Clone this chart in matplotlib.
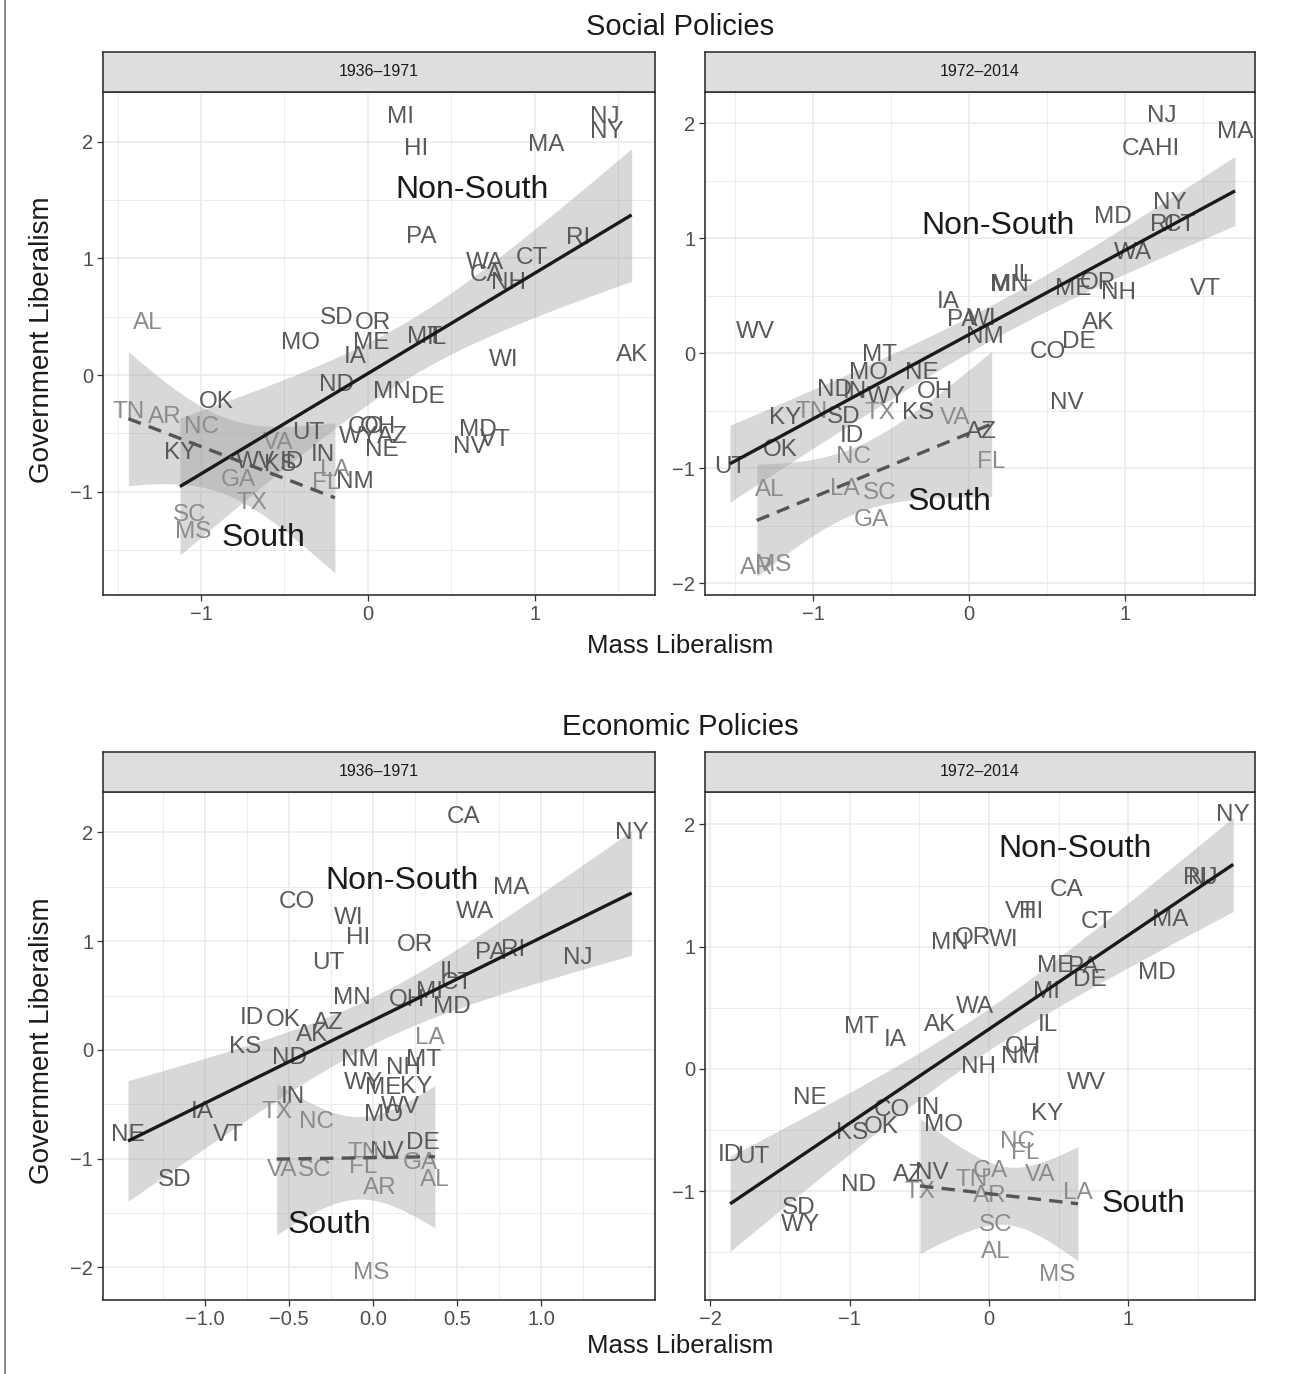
import numpy as np
import matplotlib
matplotlib.use("Agg")
import matplotlib.pyplot as plt
from matplotlib.lines import Line2D

plt.rcParams['font.family'] = ['Liberation Sans', 'DejaVu Sans']

SOUTH = ["AL", "AR", "FL", "GA", "LA", "MS", "NC", "SC", "TN", "TX", "VA"]

# ---------------- Social policies, 1936-1971 ----------------
soc1_states = ["AL", "SD", "OR", "MO", "ME", "IA", "ND", "MN", "OK", "TN",
               "AR", "NC", "KY", "VA", "UT", "WV", "KS", "ID", "IN", "LA",
               "NM", "FL", "GA", "TX", "SC", "MS", "MI", "HI", "MA", "NJ",
               "NY", "PA", "RI", "CT", "WA", "CA", "NH", "MT", "IL", "WI",
               "AK", "DE", "MD", "VT", "NV", "CO", "OH", "WY", "AZ", "NE"]
soc1_mass = [-1.317, -0.187, 0.032, -0.407, 0.022, -0.078, -0.187, 0.142, -0.906, -1.435,
             -1.216, -0.996, -1.126, -0.537, -0.357, -0.677, -0.527, -0.457, -0.268, -0.198,
             -0.078, -0.248, -0.776, -0.697, -1.066, -1.046, 0.192, 0.291, 1.070, 1.419,
             1.429, 0.321, 1.260, 0.980, 0.700, 0.710, 0.840, 0.341, 0.413, 0.810,
             1.579, 0.361, 0.661, 0.760, 0.611, -0.012, 0.060, -0.060, 0.144, 0.084]
soc1_gov = [0.448, 0.486, 0.443, 0.271, 0.277, 0.157, -0.086, -0.143, -0.229, -0.314,
            -0.363, -0.443, -0.671, -0.586, -0.500, -0.743, -0.771, -0.743, -0.686, -0.814,
            -0.914, -0.929, -0.900, -1.100, -1.200, -1.343, 2.214, 1.934, 1.971, 2.214,
            2.085, 1.185, 1.171, 1.000, 0.957, 0.857, 0.786, 0.328, 0.317, 0.129,
            0.171, -0.186, -0.471, -0.557, -0.614, -0.446, -0.446, -0.531, -0.531, -0.643]

# ---------------- Social policies, 1972-2014 ----------------
soc2_states = ["WV", "IA", "NM", "MT", "MO", "NE", "ND", "IN", "WY", "OH",
               "KY", "TN", "SD", "TX", "KS", "VA", "AZ", "ID", "OK", "NC",
               "FL", "UT", "AL", "LA", "SC", "GA", "AR", "MS", "NJ", "MA",
               "CA", "HI", "NY", "MD", "RI", "CT", "WA", "MI", "MN", "IL",
               "OR", "ME", "NH", "VT", "AK", "DE", "CO", "NV", "PA", "WI"]
soc2_mass = [-1.372, -0.133, 0.103, -0.571, -0.645, -0.303, -0.859, -0.731, -0.528, -0.218,
             -1.179, -1.009, -0.806, -0.571, -0.325, -0.090, 0.081, -0.752, -1.212, -0.741,
             0.145, -1.532, -1.276, -0.795, -0.571, -0.624, -1.360, -1.254, 1.235, 1.705,
             1.085, 1.267, 1.288, 0.925, 1.235, 1.353, 1.053, 0.218, 0.263, 0.348,
             0.829, 0.669, 0.957, 1.513, 0.829, 0.701, 0.508, 0.626, -0.045, 0.083]
soc2_gov = [0.185, 0.446, 0.142, -0.017, -0.177, -0.177, -0.322, -0.336, -0.380, -0.336,
            -0.568, -0.510, -0.554, -0.525, -0.525, -0.568, -0.684, -0.722, -0.843, -0.902,
            -0.945, -0.988, -1.191, -1.185, -1.220, -1.452, -1.872, -1.843, 2.061, 1.925,
            1.771, 1.771, 1.302, 1.180, 1.113, 1.113, 0.867, 0.591, 0.591, 0.678,
            0.612, 0.554, 0.525, 0.554, 0.258, 0.099, 0.012, -0.438, 0.287, 0.296]

# ---------------- Economic policies, 1936-1971 ----------------
eco1_states = ["CO", "WI", "HI", "UT", "MN", "ID", "OK", "AZ", "AK", "KS",
               "ND", "NM", "IN", "TX", "NC", "NH", "MT", "WY", "ME", "KY",
               "WV", "MO", "LA", "DE", "NV", "TN", "GA", "VA", "SC", "FL",
               "AR", "AL", "MS", "OH", "MI", "CT", "IL", "MD", "CA", "NY",
               "MA", "WA", "OR", "PA", "RI", "NJ", "NE", "IA", "VT", "SD"]
eco1_mass = [-0.454, -0.147, -0.087, -0.266, -0.127, -0.722, -0.534, -0.266, -0.365, -0.762,
             -0.494, -0.077, -0.474, -0.573, -0.335, 0.180, 0.299, -0.058, 0.061, 0.260,
             0.161, 0.061, 0.339, 0.299, 0.081, -0.058, 0.280, -0.543, -0.345, -0.058,
             0.042, 0.369, -0.008, 0.200, 0.339, 0.498, 0.458, 0.468, 0.538, 1.540,
             0.825, 0.607, 0.250, 0.696, 0.835, 1.222, -1.458, -1.018, -0.863, -1.179]
eco1_gov = [1.364, 1.211, 1.027, 0.797, 0.475, 0.291, 0.276, 0.245, 0.138, 0.030,
            -0.077, -0.092, -0.429, -0.567, -0.659, -0.169, -0.092, -0.307, -0.352, -0.337,
            -0.521, -0.598, 0.107, -0.858, -0.935, -0.950, -1.042, -1.103, -1.103, -1.073,
            -1.272, -1.195, -2.053, 0.460, 0.536, 0.613, 0.720, 0.398, 2.145, 1.993,
            1.487, 1.272, 0.966, 0.889, 0.920, 0.843, -0.782, -0.570, -0.782, -1.195]

# ---------------- Economic policies, 1972-2014 ----------------
eco2_states = ["WA", "MT", "IA", "AK", "NH", "NE", "CO", "IN", "KS", "OK",
               "MO", "ID", "UT", "ND", "AZ", "NV", "TX", "TN", "SD", "WY",
               "CA", "VT", "HI", "CT", "MN", "OR", "WI", "ME", "PA", "DE",
               "MI", "IL", "OH", "NM", "WV", "KY", "NY", "RI", "NJ", "MA",
               "MD", "NC", "FL", "GA", "VA", "AR", "LA", "SC", "AL", "MS"]
eco2_mass = [-0.100, -0.914, -0.675, -0.352, -0.077, -1.285, -0.699, -0.436, -0.986, -0.771,
             -0.328, -1.859, -1.692, -0.938, -0.579, -0.411, -0.495, -0.124, -1.369, -1.357,
             0.558, 0.223, 0.306, 0.773, -0.280, -0.113, 0.103, 0.474, 0.677, 0.725,
             0.414, 0.426, 0.246, 0.223, 0.701, 0.416, 1.754, 1.479, 1.538, 1.299,
             1.204, 0.208, 0.258, 0.007, 0.366, 0.007, 0.639, 0.050, 0.050, 0.488]
eco2_gov = [0.510, 0.346, 0.237, 0.360, 0.019, -0.240, -0.335, -0.321, -0.526, -0.472,
            -0.458, -0.703, -0.717, -0.948, -0.867, -0.853, -1.003, -0.908, -1.139, -1.276,
            1.464, 1.286, 1.286, 1.204, 1.028, 1.069, 1.055, 0.842, 0.837, 0.728,
            0.632, 0.360, 0.182, 0.101, -0.117, -0.368, 2.077, 1.559, 1.559, 1.218,
            0.787, -0.597, -0.687, -0.834, -0.867, -1.038, -1.014, -1.276, -1.496, -1.684]

period_labels = ["1936\u20131971", "1972\u20132014"]
row_titles = ["Social Policies", "Economic Policies"]
x_label = "Mass Liberalism"
y_label = "Government Liberalism"

W, H = 1290, 1374
fig = plt.figure(figsize=(W / 100, H / 100), dpi=100)

NONSOUTH_COL = "#595959"
SOUTH_COL = "#8c8c8c"
STATE_FS = 17.5
GROUP_FS = 23
TICK_FS = 14.5
XLAB_FS = 18.5
YLAB_FS = 20
TITLE_FS = 21
STRIP_FS = 11.5


def t975(df):
    z = 1.959964
    return (z + (z**3 + z) / (4 * df)
            + (5 * z**5 + 16 * z**3 + 3 * z) / (96 * df**2)
            + (3 * z**7 + 19 * z**5 + 17 * z**3 - 15 * z) / (384 * df**3))


def fit_band(x, y):
    x = np.asarray(x, float)
    y = np.asarray(y, float)
    n = len(x)
    b1, b0 = np.polyfit(x, y, 1)
    xs = np.linspace(x.min(), x.max(), 100)
    yhat = b0 + b1 * xs
    res = y - (b0 + b1 * x)
    s = np.sqrt(np.sum(res**2) / (n - 2))
    sxx = np.sum((x - x.mean())**2)
    se = s * np.sqrt(1.0 / n + (xs - x.mean())**2 / sxx)
    t = t975(n - 2)
    return xs, yhat, yhat - t * se, yhat + t * se


def px_axes(l, t, r, b):
    return [l / W, 1 - b / H, (r - l) / W, (b - t) / H]


def draw_panel(box, states, mass, gov, xlim, ylim, xticks, xticklabels,
               yticks, yticklabels, minor_x, minor_y, strip, ns_pos, s_pos):
    l, t, r, b = box
    ax = fig.add_axes(px_axes(l, t, r, b))
    ax.set_xlim(*xlim)
    ax.set_ylim(*ylim)
    ax.set_xticks(xticks)
    ax.set_xticklabels(xticklabels)
    ax.set_yticks(yticks)
    ax.set_yticklabels(yticklabels)
    ax.set_xticks(minor_x, minor=True)
    ax.set_yticks(minor_y, minor=True)
    ax.grid(True, which="major", color="#ebebeb", lw=1.2, zorder=0)
    ax.grid(True, which="minor", color="#ebebeb", lw=0.7, zorder=0)
    ax.set_axisbelow(True)
    ax.tick_params(which="major", length=4, width=0.9, color="#333333",
                   labelsize=TICK_FS, labelcolor="#4d4d4d", pad=3)
    ax.tick_params(which="minor", length=0)
    for sp in ax.spines.values():
        sp.set_color("#333333")
        sp.set_linewidth(1.2)

    mass = np.asarray(mass)
    gov = np.asarray(gov)
    is_s = np.array([s in SOUTH for s in states])

    for grp, ls, col in [(~is_s, "-", "#1a1a1a"), (is_s, "--", "#555555")]:
        xs, yh, lo, hi = fit_band(mass[grp], gov[grp])
        ax.fill_between(xs, lo, hi, color="#999999", alpha=0.38, lw=0, zorder=1)
        line, = ax.plot(xs, yh, color=col, lw=2.4, zorder=3, solid_capstyle="butt")
        if ls == "--":
            line.set_dashes((4, 2.5))

    for st, xv, yv, s in zip(states, mass, gov, is_s):
        ax.text(xv, yv, st, ha="center", va="center", fontsize=STATE_FS,
                color=SOUTH_COL if s else NONSOUTH_COL, zorder=2)

    ax.text(ns_pos[0], ns_pos[1], "Non-South", ha="center", va="center",
            fontsize=GROUP_FS, color="#1a1a1a", zorder=4)
    ax.text(s_pos[0], s_pos[1], "South", ha="center", va="center",
            fontsize=GROUP_FS, color="#1a1a1a", zorder=4)

    sax = fig.add_axes(px_axes(l, t - 40, r, t))
    sax.set_facecolor("#dedede")
    sax.set_xticks([])
    sax.set_yticks([])
    for sp in sax.spines.values():
        sp.set_color("#333333")
        sp.set_linewidth(1.2)
    sax.text(0.5, 0.5, strip, ha="center", va="center", fontsize=STRIP_FS,
             color="#1a1a1a", transform=sax.transAxes)
    return ax


M = "\u2212"
# top row
draw_panel((103, 92, 655, 595), soc1_states, soc1_mass, soc1_gov,
           (-1.587, 1.719), (-1.885, 2.425),
           [-1, 0, 1], [M + "1", "0", "1"],
           [-1, 0, 1, 2], [M + "1", "0", "1", "2"],
           [-1.5, -0.5, 0.5, 1.5], [-1.5, -0.5, 0.5, 1.5],
           period_labels[0], (0.621, 1.585), (-0.627, -1.40))
draw_panel((705, 92, 1255, 595), soc2_states, soc2_mass, soc2_gov,
           (-1.692, 1.833), (-2.104, 2.270),
           [-1, 0, 1], [M + "1", "0", "1"],
           [-2, -1, 0, 1, 2], [M + "2", M + "1", "0", "1", "2"],
           [-1.5, -0.5, 0.5, 1.5], [-1.5, -0.5, 0.5, 1.5],
           period_labels[1], (0.186, 1.104), (-0.122, -1.293))
# bottom row
draw_panel((103, 792, 655, 1300), eco1_states, eco1_mass, eco1_gov,
           (-1.607, 1.679), (-2.299, 2.372),
           [-1.0, -0.5, 0.0, 0.5, 1.0], [M + "1.0", M + "0.5", "0.0", "0.5", "1.0"],
           [-2, -1, 0, 1, 2], [M + "2", M + "1", "0", "1", "2"],
           [-1.25, -0.75, -0.25, 0.25, 0.75, 1.25], [-1.5, -0.5, 0.5, 1.5],
           period_labels[0], (0.173, 1.554), (-0.256, -1.609))
draw_panel((705, 792, 1255, 1300), eco2_states, eco2_mass, eco2_gov,
           (-2.039, 1.910), (-1.889, 2.265),
           [-2, -1, 0, 1], [M + "2", M + "1", "0", "1"],
           [-1, 0, 1, 2], [M + "1", "0", "1", "2"],
           [-1.5, -0.5, 0.5, 1.5], [-1.5, -0.5, 0.5, 1.5],
           period_labels[1], (0.617, 1.799), (1.106, -1.104))

# titles and axis labels
fig.text(680 / W, 1 - 27 / H, row_titles[0], ha="center", va="center", fontsize=TITLE_FS, color="#1a1a1a")
fig.text(680 / W, 1 - 727 / H, row_titles[1], ha="center", va="center", fontsize=TITLE_FS, color="#1a1a1a")
fig.text(680 / W, 1 - 646 / H, x_label, ha="center", va="center", fontsize=XLAB_FS, color="#1a1a1a")
fig.text(680 / W, 1 - 1346 / H, x_label, ha="center", va="center", fontsize=XLAB_FS, color="#1a1a1a")
fig.text(42 / W, 1 - 340 / H, y_label, ha="center", va="center", rotation=90, fontsize=YLAB_FS, color="#1a1a1a")
fig.text(42 / W, 1 - 1041 / H, y_label, ha="center", va="center", rotation=90, fontsize=YLAB_FS, color="#1a1a1a")

fig.add_artist(Line2D([5 / W, 5 / W], [0, 1], color="#808080", lw=1.3))

fig.savefig("out.png", dpi=100)
